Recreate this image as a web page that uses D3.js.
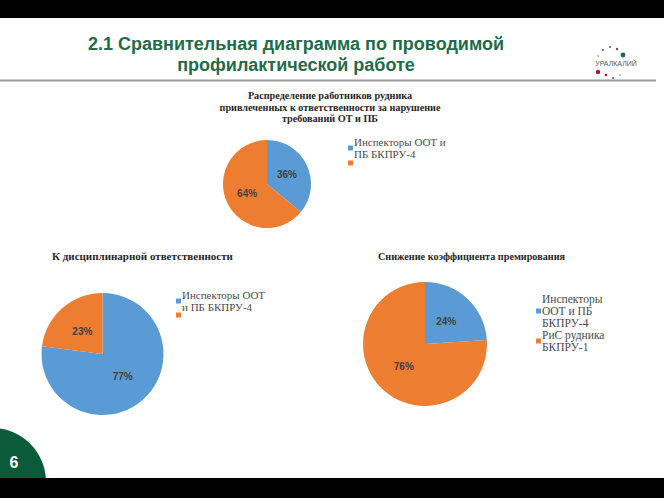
<!DOCTYPE html>
<html>
<head>
<meta charset="utf-8">
<script src="https://cdn.jsdelivr.net/npm/d3@7"></script>
<style>
  html, body { margin: 0; padding: 0; background: #fff; }
  svg { display: block; }
</style>
</head>
<body>
<div id="chart"></div>
<script>
const w = 664;
const h = 498;
const colors = ['#5b9bd5', '#ed7d31'];

// slide title
const slideTitle = ['2.1 Сравнительная диаграмма по проводимой', 'профилактической работе'];
const pageNumber = '6';

// chart 1
const title1 = ['Распределение работников рудника', 'привлеченных к ответственности за нарушение', 'требований ОТ и ПБ'];
const values1 = [36, 64];
const legend1 = [['Инспекторы ООТ и', 'ПБ БКПРУ-4'], ['']];

// chart 2
const title2 = ['К дисциплинарной ответственности'];
const values2 = [77, 23];
const legend2 = [['Инспекторы ООТ', 'и ПБ БКПРУ-4'], ['']];

// chart 3
const title3 = ['Снижение коэффициента премирования'];
const values3 = [24, 76];
const legend3 = [['Инспекторы', 'ООТ и ПБ', 'БКПРУ-4'], ['РиС рудника', 'БКПРУ-1']];


const svg = d3.select('#chart')
  .append('svg')
  .attr('width', w)
  .attr('height', h);

// page number badge, drawn first so the bottom bar cuts it
svg.append('circle')
  .attr('cx', -8).attr('cy', 482).attr('r', 54)
  .attr('fill', '#0b5b3b');

// frame of the slide
svg.append('rect').attr('x', 0).attr('y', 0).attr('width', w).attr('height', 18).attr('fill', '#000');
svg.append('rect').attr('x', 0).attr('y', 478).attr('width', w).attr('height', 20).attr('fill', '#000');
svg.append('line')
  .attr('x1', 0).attr('x2', 656).attr('y1', 80.5).attr('y2', 80.5)
  .attr('stroke', '#9a9a9a').attr('stroke-width', 2);

svg.append('text')
  .attr('x', 14).attr('y', 468)
  .attr('text-anchor', 'middle')
  .attr('font-family', 'Liberation Sans, Arial, sans-serif')
  .attr('font-weight', 'bold')
  .attr('font-size', 16)
  .attr('fill', '#fff')
  .text(pageNumber);

svg.append('g').selectAll('text')
  .data(slideTitle)
  .enter()
  .append('text')
  .attr('x', 296)
  .attr('y', (d, i) => 50 + i * 21)
  .attr('text-anchor', 'middle')
  .attr('font-family', 'Liberation Sans, Arial, sans-serif')
  .attr('font-weight', 'bold')
  .attr('font-size', 18)
  .attr('fill', '#216b4b')
  .text(d => d);

// logo
const logo = svg.append('g');
[[603, 50, 1, '#555'], [610, 47, 1, '#555'], [617, 49, 1.2, '#555'], [623, 55, 2.4, '#1d6a47'],
 [598, 56, 0.8, '#777'], [598, 72, 2.2, '#a0182b'], [606, 75, 1.3, '#a0182b'], [613, 78, 1, '#555'], [620, 75, 0.8, '#777']]
  .forEach(p => logo.append('circle').attr('cx', p[0]).attr('cy', p[1]).attr('r', p[2]).attr('fill', p[3]));
logo.append('text')
  .attr('x', 616).attr('y', 66)
  .attr('text-anchor', 'middle')
  .attr('font-family', 'Liberation Sans, Arial, sans-serif')
  .attr('font-size', 7)
  .attr('fill', '#555')
  .text('УРАЛКАЛИЙ');


function createPie(values, cx, cy, r) {
  const pie = d3.pie().sort(null).startAngle(0).endAngle(2 * Math.PI);
  const arc = d3.arc().innerRadius(0).outerRadius(r);
  const g = svg.append('g').attr('transform', `translate(${cx}, ${cy})`);

  const slices = g.selectAll('g')
    .data(pie(values))
    .enter()
    .append('g');

  slices.append('path')
    .attr('d', arc)
    .attr('fill', (d, i) => colors[i]);

  slices.append('text')
    .attr('transform', d => `translate(${arc.centroid(d)})`)
    .attr('dy', '0.35em')
    .attr('text-anchor', 'middle')
    .attr('font-family', 'Liberation Sans, Arial, sans-serif')
    .attr('font-weight', 'bold')
    .attr('font-size', 10)
    .attr('fill', '#404040')
    .text(d => d.data + '%');
}  // End createPie


function createTitle(lines, x, y, anchor, size) {
  svg.append('g').selectAll('text')
    .data(lines)
    .enter()
    .append('text')
    .attr('x', x)
    .attr('y', (d, i) => y + i * 11.5)
    .attr('text-anchor', anchor)
    .attr('font-family', 'Liberation Serif, Times New Roman, serif')
    .attr('font-weight', 'bold')
    .attr('font-size', size)
    .attr('fill', '#262626')
    .text(d => d);
}  // End createTitle


function createLegend(items, x, yCenters, lineH, fontSize) {
  items.forEach((lines, i) => {
    const yc = yCenters[i];
    svg.append('rect')
      .attr('x', x).attr('y', yc - 2.5)
      .attr('width', 5).attr('height', 5)
      .attr('fill', colors[i]);
    const top = yc - (lines.length - 1) * lineH / 2;
    svg.append('g').selectAll('text')
      .data(lines)
      .enter()
      .append('text')
      .attr('x', x + 6)
      .attr('y', (d, j) => top + j * lineH)
      .attr('dy', '0.35em')
      .attr('font-family', 'Liberation Serif, Times New Roman, serif')
      .attr('font-size', fontSize)
      .attr('fill', '#4a4a4a')
      .text(d => d);
  });
}  // End createLegend


createTitle(title1, 330, 99, 'middle', 10.2);
createPie(values1, 267, 184, 44);
createLegend(legend1, 348, [148, 163], 12.5, 11);

createTitle(title2, 52, 260, 'start', 11);
createPie(values2, 102.5, 354, 61);
createLegend(legend2, 176, [301, 315], 12, 11);

createTitle(title3, 378, 260, 'start', 10.2);
createPie(values3, 425, 344, 62);
createLegend(legend3, 536, [311, 341], 12, 11.5);
</script>
</body>
</html>
